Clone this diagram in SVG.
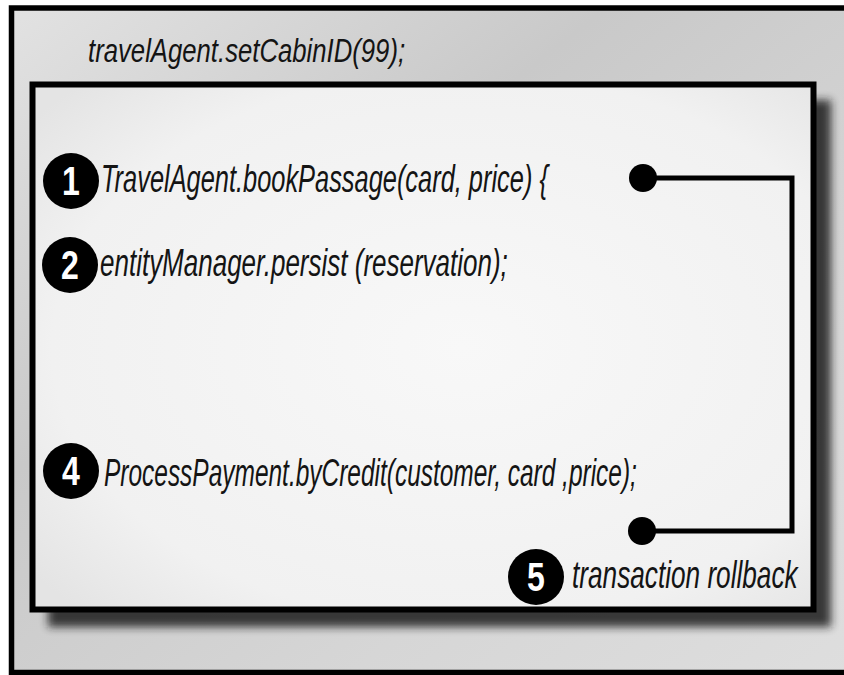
<svg xmlns="http://www.w3.org/2000/svg" width="844" height="675" viewBox="0 0 844 675">
  <defs>
    <linearGradient id="panelFill" x1="0" y1="0" x2="1" y2="1">
      <stop offset="0" stop-color="#e2e2e2"/>
      <stop offset="0.35" stop-color="#c9c9c9"/>
      <stop offset="0.7" stop-color="#d6d6d6"/>
      <stop offset="1" stop-color="#dedede"/>
    </linearGradient>
    <radialGradient id="boxFill" cx="0.55" cy="0.5" r="0.7">
      <stop offset="0" stop-color="#f8f8f8"/>
      <stop offset="0.75" stop-color="#f1f1f1"/>
      <stop offset="1" stop-color="#e4e4e4"/>
    </radialGradient>
    <filter id="soft" x="-10%" y="-10%" width="120%" height="120%">
      <feGaussianBlur stdDeviation="4"/>
    </filter>
  </defs>
  <style>
    .code { font-family: "Liberation Sans", Arial, sans-serif; font-style: italic; fill: #141414; font-size: 38px; }
    .badge { fill: #000; }
    .num { font-family: "Liberation Sans", Arial, sans-serif; font-weight: bold; fill: #fff; text-anchor: middle; font-size: 40px; }
    .wire { fill: none; stroke: #000; stroke-width: 5; }
    .dot { fill: #000; }
  </style>

  <!-- outer panel -->
  <rect x="0" y="0" width="844" height="675" fill="#ffffff"/>
  <rect x="11.5" y="8" width="850" height="664.5" fill="url(#panelFill)" stroke="#000" stroke-width="5.5"/>

  <g id="title">
    <text class="code" transform="translate(88 62) scale(0.755 1)" style="font-size:34px" textLength="420" lengthAdjust="spacingAndGlyphs">travelAgent.setCabinID(99);</text>
  </g>

  <!-- method box with drop shadow -->
  <g id="method-box">
    <rect x="48" y="100" width="783" height="527" fill="#1e1e1e" opacity="0.85" filter="url(#soft)"/>
    <rect x="32.5" y="84.5" width="781" height="525" fill="url(#boxFill)" stroke="#000" stroke-width="6"/>
  </g>

  <g id="step1">
    <circle class="badge" cx="71" cy="181" r="28"/>
    <text class="num" transform="translate(71 195) scale(0.8 1)">1</text>
    <text class="code" transform="translate(101 192) scale(0.666 1)" textLength="671" lengthAdjust="spacingAndGlyphs">TravelAgent.bookPassage(card, price) {</text>
  </g>

  <g id="step2">
    <circle class="badge" cx="70" cy="265" r="28"/>
    <text class="num" transform="translate(70 279) scale(0.8 1)">2</text>
    <text class="code" transform="translate(100 276) scale(0.682 1)" textLength="598" lengthAdjust="spacingAndGlyphs">entityManager.persist (reservation);</text>
  </g>

  <g id="step4">
    <circle class="badge" cx="71" cy="471" r="28"/>
    <text class="num" transform="translate(71 485) scale(0.8 1)">4</text>
    <text class="code" transform="translate(104 486) scale(0.642 1)" textLength="830" lengthAdjust="spacingAndGlyphs">ProcessPayment.byCredit(customer, card ,price);</text>
  </g>

  <g id="step5">
    <circle class="badge" cx="536" cy="577" r="28"/>
    <text class="num" transform="translate(536 591) scale(0.8 1)">5</text>
    <text class="code" transform="translate(572 588) scale(0.69 1)" textLength="327" lengthAdjust="spacingAndGlyphs">transaction rollback</text>
  </g>

  <!-- rollback path from the method start to the failing call -->
  <g id="connectors">
    <path class="wire" d="M643 178 H792 V531 H642"/>
    <circle class="dot" cx="643" cy="178" r="14"/>
    <circle class="dot" cx="642" cy="531" r="14"/>
  </g>
</svg>
